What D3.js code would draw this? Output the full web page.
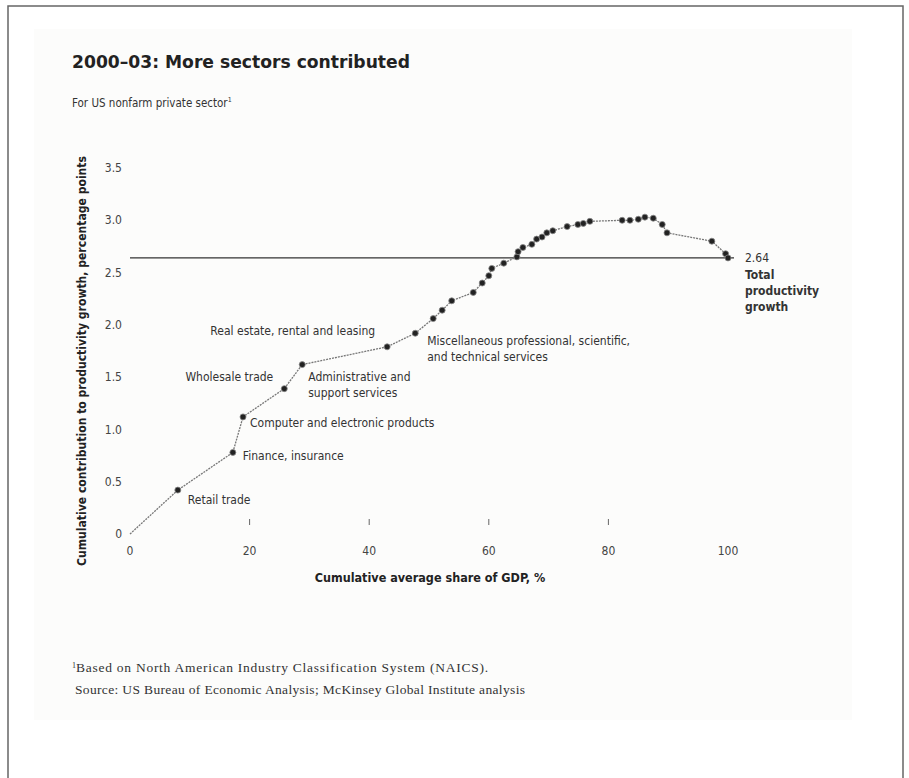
<!DOCTYPE html>
<html>
<head>
<meta charset="utf-8">
<script src="https://cdn.jsdelivr.net/npm/d3@7"></script>
<style>
  body { margin: 0; background: #fff; }
  svg { display: block; }
</style>
</head>
<body>
<div id="chart"></div>
<script>
// cumulative share of GDP (%) and cumulative contribution (pp)
const shareX = [0, 8.0, 17.2, 18.9, 25.8, 28.8, 43.0, 47.7, 50.7, 52.2, 53.8, 57.4, 58.9, 60.0, 60.5,
  62.5, 64.7, 64.9, 65.7, 67.2, 68.0, 68.9, 69.7, 70.7, 73.1, 74.9, 75.8, 76.9, 82.3, 83.6,
  85.0, 86.1, 87.5, 89.0, 89.8, 97.3, 99.6, 100];
const contribY = [0, 0.42, 0.78, 1.12, 1.39, 1.62, 1.79, 1.92, 2.06, 2.14, 2.23, 2.31, 2.40, 2.47, 2.54,
  2.59, 2.65, 2.70, 2.74, 2.77, 2.82, 2.84, 2.88, 2.90, 2.94, 2.96, 2.97, 2.99, 3.00, 3.00,
  3.01, 3.03, 3.02, 2.96, 2.88, 2.80, 2.68, 2.64];
const total = 2.64;
const xTicks = [0, 20, 40, 60, 80, 100];
const yTicks = [0, 0.5, 1.0, 1.5, 2.0, 2.5, 3.0, 3.5];

const sectorNames = [
  ["Retail trade"],
  ["Finance, insurance"],
  ["Computer and electronic products"],
  ["Wholesale trade"],
  ["Administrative and", "support services"],
  ["Real estate, rental and leasing"],
  ["Miscellaneous professional, scientific,", "and technical services"]
];
const sectorAt = [1, 2, 3, 4, 5, 6, 7];

const width = 909, height = 778;
const condensed = "'Liberation Sans Narrow', 'DejaVu Sans Condensed', sans-serif";
const serif = "'Liberation Serif', 'Times New Roman', serif";

const svg = d3.select("#chart").append("svg")
  .attr("width", width).attr("height", height);

// page frame and scanned panel
svg.append("path")
  .attr("d", "M8,800 V6 H903 V800")
  .attr("fill", "none").attr("stroke", "#666").attr("stroke-width", 1.5);
svg.append("rect")
  .attr("x", 34).attr("y", 29).attr("width", 818).attr("height", 691)
  .attr("fill", "#fcfcfb");

const x = d3.scaleLinear().domain([0, 100]).range([130, 728]);
const y = d3.scaleLinear().domain([0, 3.5]).range([534, 168]);

svg.append("text")
  .attr("x", 72).attr("y", 68)
  .attr("font-family", "'DejaVu Sans', sans-serif")
  .attr("font-weight", "bold").attr("font-size", 17)
  .attr("textLength", 338).attr("lengthAdjust", "spacingAndGlyphs")
  .attr("fill", "#222")
  .text("2000–03: More sectors contributed");

svg.append("text")
  .attr("x", 72).attr("y", 107)
  .attr("font-family", condensed).attr("font-size", 11.5).attr("fill", "#333")
  .text("For US nonfarm private sector")
  .append("tspan").attr("font-size", 7).attr("dy", -5).text("1");

// y tick labels
svg.append("g")
  .selectAll("text")
  .data(yTicks)
  .join("text")
  .attr("x", 122)
  .attr("y", d => y(d))
  .attr("dy", "0.35em")
  .attr("text-anchor", "end")
  .attr("font-family", condensed).attr("font-size", 12).attr("fill", "#444")
  .text(d => d === 0 ? "0" : d.toFixed(1));

// x ticks
const xAxis = svg.append("g");
xAxis.selectAll("line")
  .data(xTicks.filter(d => d > 0 && d < 100))
  .join("line")
  .attr("x1", d => x(d)).attr("x2", d => x(d))
  .attr("y1", 519).attr("y2", 525)
  .attr("stroke", "#666").attr("stroke-width", 1);
xAxis.selectAll("text")
  .data(xTicks)
  .join("text")
  .attr("x", d => x(d))
  .attr("y", 555)
  .attr("text-anchor", "middle")
  .attr("font-family", condensed).attr("font-size", 12).attr("fill", "#444")
  .text(d => d);

// axis titles
svg.append("text")
  .attr("transform", `translate(86,${y(1.75) + 10}) rotate(-90)`)
  .attr("text-anchor", "middle")
  .attr("font-family", condensed).attr("font-weight", "bold").attr("font-size", 12.5)
  .attr("textLength", 410).attr("lengthAdjust", "spacingAndGlyphs")
  .attr("fill", "#222")
  .text("Cumulative contribution to productivity growth, percentage points");

svg.append("text")
  .attr("x", 430).attr("y", 582)
  .attr("text-anchor", "middle")
  .attr("font-family", condensed).attr("font-weight", "bold").attr("font-size", 12.5)
  .attr("fill", "#222")
  .text("Cumulative average share of GDP, %");

// total growth reference line
svg.append("line")
  .attr("x1", x(0)).attr("x2", x(100) + 6)
  .attr("y1", y(total)).attr("y2", y(total))
  .attr("stroke", "#333").attr("stroke-width", 1.2);

const pts = shareX.map((v, i) => [v, contribY[i]]);

svg.append("path")
  .datum(pts)
  .attr("fill", "none")
  .attr("stroke", "#777").attr("stroke-width", 1.3)
  .attr("stroke-dasharray", "2,1")
  .attr("d", d3.line().x(d => x(d[0])).y(d => y(d[1])));

svg.append("g")
  .selectAll("circle")
  .data(pts.slice(1))
  .join("circle")
  .attr("cx", d => x(d[0])).attr("cy", d => y(d[1]))
  .attr("r", 3)
  .attr("fill", "#222").attr("stroke", "#888").attr("stroke-width", 0.8);

// sector labels: offsets from their point
const labelPos = [
  [10, 14, "start"],
  [10, 8, "start"],
  [7, 10, "start"],
  [-11, -8, "end"],
  [6, 16, "start"],
  [-12, -12, "end"],
  [12, 12, "start"]
];
sectorNames.forEach((lines, i) => {
  const p = pts[sectorAt[i]];
  const [dx, dy, anchor] = labelPos[i];
  const t = svg.append("text")
    .attr("x", x(p[0]) + dx)
    .attr("y", y(p[1]) + dy)
    .attr("text-anchor", anchor)
    .attr("font-family", condensed).attr("font-size", 12).attr("fill", "#333");
  t.selectAll("tspan")
    .data(lines)
    .join("tspan")
    .attr("x", x(p[0]) + dx)
    .attr("dy", (d, j) => j === 0 ? 0 : 16)
    .text(d => d);
});

// total label
const tl = svg.append("text")
  .attr("x", x(100) + 17).attr("y", y(total) + 4)
  .attr("font-family", condensed).attr("font-size", 12).attr("fill", "#333");
tl.append("tspan").text(total.toFixed(2));
["Total", "productivity", "growth"].forEach((s, i) => {
  tl.append("tspan")
    .attr("x", x(100) + 17).attr("dy", i === 0 ? 17 : 16)
    .attr("font-weight", "bold")
    .text(s);
});

// footnotes
const fn = svg.append("text")
  .attr("x", 72).attr("y", 672)
  .attr("font-family", serif).attr("font-size", 13.5).attr("fill", "#333");
fn.append("tspan").attr("font-size", 8).attr("dy", -4).text("1");
fn.append("tspan").attr("dy", 4)
  .attr("textLength", 412).attr("lengthAdjust", "spacing")
  .text("Based on North American Industry Classification System (NAICS).");
svg.append("text")
  .attr("x", 75).attr("y", 694)
  .attr("font-family", serif).attr("font-size", 13.5).attr("fill", "#333")
  .attr("textLength", 450).attr("lengthAdjust", "spacing")
  .text("Source: US Bureau of Economic Analysis; McKinsey Global Institute analysis");
</script>
</body>
</html>
